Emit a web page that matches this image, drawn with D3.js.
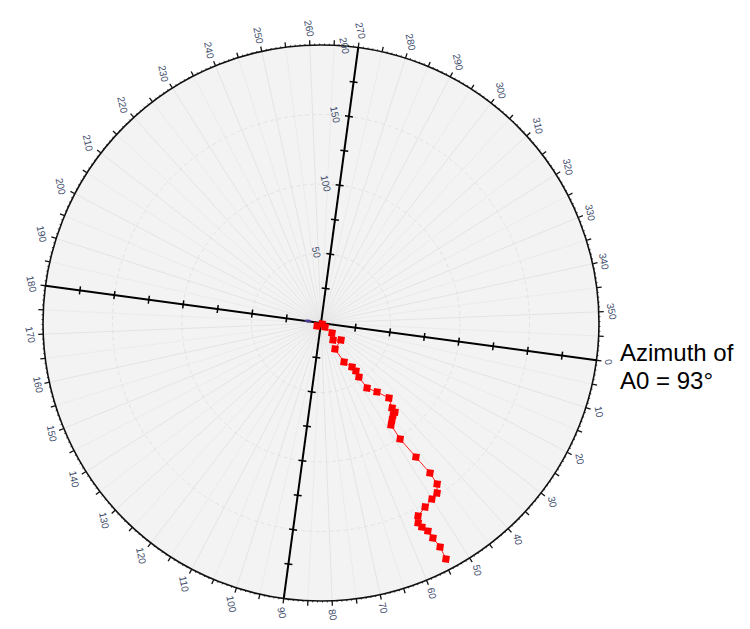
<!DOCTYPE html>
<html><head><meta charset="utf-8">
<script src="https://cdn.jsdelivr.net/npm/d3@7"></script>
<style>body{margin:0;background:#fff}svg{display:block}</style>
</head><body>
<svg id="c" width="750" height="629"></svg>
<script>
// ---- data ----
const angleTicks = d3.range(0, 360, 10);           // labelled azimuth ticks
const radialTicks = [50, 100, 150, 200];            // labelled radial ticks
const pathAzimuth = [135, 37, 37, 34.6, 47.1, 32.7, 54, 51.8, 47.1, 46.2, 47.2, 47, 43.2, 40.1, 42.4, 42.6, 44.2, 46.1, 47.8, 48.0, 47.0, 46.3, 46.5, 48.0, 50.1, 52.8, 55.6, 56.4, 56.0, 55.1, 54.8, 54.3, 54.4];
const pathRadius  = [3.6, 1.0, 4.1, 10.7, 15.0, 18.9, 21.2, 32.6, 38.7, 42.7, 47.5, 57.3, 63.9, 72.8, 79.7, 83.3, 84.1, 86.5, 89.0, 101.0, 118.2, 133.4, 142.8, 148.1, 149.7, 152.1, 155.4, 159.9, 163.8, 168.3, 174.4, 182.5, 192.1];
const startAzimuth = [181];
const startRadius = [9.5];
const noteLines = ["Azimuth of", "A0 = 93°"];

// ---- layout ----
const cx = 321, cy = 323, R = 278, rot = 7.7;
const svg = d3.select("#c");
const r = d3.scaleLinear().domain([0, 200]).range([0, R]);
const ang = d3.scaleLinear().domain([0, 360]).range([rot * Math.PI / 180, (rot + 360) * Math.PI / 180]);
const px = (a, v) => cx + r(v) * Math.cos(ang(a));
const py = (a, v) => cy + r(v) * Math.sin(ang(a));
const pxr = (a, d) => cx + d * Math.cos(ang(a));
const pyr = (a, d) => cy + d * Math.sin(ang(a));

// background
svg.append("circle").attr("cx", cx).attr("cy", cy).attr("r", R).attr("fill", "#f3f3f3");

// grid
const g = svg.append("g");
d3.range(0, 360, 5).forEach(a => {
  g.append("line").attr("x1", cx).attr("y1", cy).attr("x2", px(a, 200)).attr("y2", py(a, 200))
    .attr("stroke", a % 10 === 0 ? "#e0e0e0" : "#e8e8e8").attr("stroke-width", 0.8);
});
[50, 100, 150].forEach(v => {
  g.append("circle").attr("cx", cx).attr("cy", cy).attr("r", r(v)).attr("fill", "none")
    .attr("stroke", "#dedede").attr("stroke-width", 0.8).attr("stroke-dasharray", "4,3");
});

// outer circle
svg.append("circle").attr("cx", cx).attr("cy", cy).attr("r", R).attr("fill", "none")
  .attr("stroke", "#111").attr("stroke-width", 1.6);

// outer ticks
d3.range(0, 360, 1).forEach(a => {
  const len = a % 5 === 0 ? 5 : 1.5;
  svg.append("line").attr("x1", pxr(a, R)).attr("y1", pyr(a, R)).attr("x2", pxr(a, R + len)).attr("y2", pyr(a, R + len))
    .attr("stroke", "#111").attr("stroke-width", a % 5 === 0 ? 1.3 : 0.8);
});

// angle labels
const textRot = 78, fs = 10, H = 7;
const labelOffset = (a, txt) => {
  const L = txt.length * fs * 0.556;
  const phi = (a + rot) - textRot;
  const ext = Math.abs(L / 2 * Math.cos(phi * Math.PI / 180)) + Math.abs(H / 2 * Math.sin(phi * Math.PI / 180));
  return R + 8 + ext;
};
angleTicks.forEach(a => {
  const t = String(a);
  const d = labelOffset(a, t);
  const x = pxr(a, d), y = pyr(a, d);
  svg.append("text").attr("x", x).attr("y", y).attr("transform", `rotate(${textRot},${x},${y})`)
    .attr("text-anchor", "middle").attr("dominant-baseline", "central")
    .attr("font-family", "Liberation Sans, Arial, sans-serif").attr("font-size", fs).attr("fill", "#3e4c6c").text(t);
});

// cross axes
[0, 90].forEach(a => {
  svg.append("line").attr("x1", px(a, 200)).attr("y1", py(a, 200)).attr("x2", px(a + 180, 200)).attr("y2", py(a + 180, 200))
    .attr("stroke", "#000").attr("stroke-width", 2);
});
[0, 90, 180, 270].forEach(a => {
  d3.range(25, 200, 25).forEach(v => {
    const x = px(a, v), y = py(a, v);
    const nx = Math.cos(ang(a) + Math.PI / 2) * 4, ny = Math.sin(ang(a) + Math.PI / 2) * 4;
    svg.append("line").attr("x1", x - nx).attr("y1", y - ny).attr("x2", x + nx).attr("y2", y + ny)
      .attr("stroke", "#000").attr("stroke-width", 1.5);
  });
});
radialTicks.forEach(v => {
  const x = px(270, v) + Math.cos(ang(180)) * 14, y = py(270, v) + Math.sin(ang(180)) * 14;
  svg.append("text").attr("x", x).attr("y", y).attr("transform", `rotate(${textRot},${x},${y})`)
    .attr("text-anchor", "middle").attr("dominant-baseline", "central")
    .attr("font-family", "Liberation Sans, Arial, sans-serif").attr("font-size", fs).attr("fill", "#3e4c6c").text(v);
});

// data
const pts = pathAzimuth.map((a, i) => [a, pathRadius[i]]);
const line = d3.line().x(d => px(d[0], d[1])).y(d => py(d[0], d[1]));
svg.append("path").attr("d", line(pts)).attr("fill", "none").attr("stroke", "#ff2020").attr("stroke-width", 1);
svg.selectAll("rect.pt").data(pts).enter().append("rect").attr("class", "pt")
  .attr("x", d => px(d[0], d[1]) - 3.5).attr("y", d => py(d[0], d[1]) - 3.5)
  .attr("width", 7).attr("height", 7).attr("fill", "#ff0000")
  .attr("transform", d => `rotate(${rot},${px(d[0], d[1])},${py(d[0], d[1])})`);
startAzimuth.forEach((a, i) => {
  svg.append("ellipse").attr("cx", px(a, startRadius[i])).attr("cy", py(a, startRadius[i])).attr("rx", 3.5).attr("ry", 1.5)
    .attr("fill", "#4a3c8c").attr("transform", `rotate(${rot},${px(a, startRadius[i])},${py(a, startRadius[i])})`);
});

// note
noteLines.forEach((t, i) => svg.append("text").attr("x", 620).attr("y", 361 + i * 28)
  .attr("font-family", "Liberation Sans, Arial, sans-serif").attr("font-size", 24).attr("fill", "#000").text(t));
</script>
</body></html>
